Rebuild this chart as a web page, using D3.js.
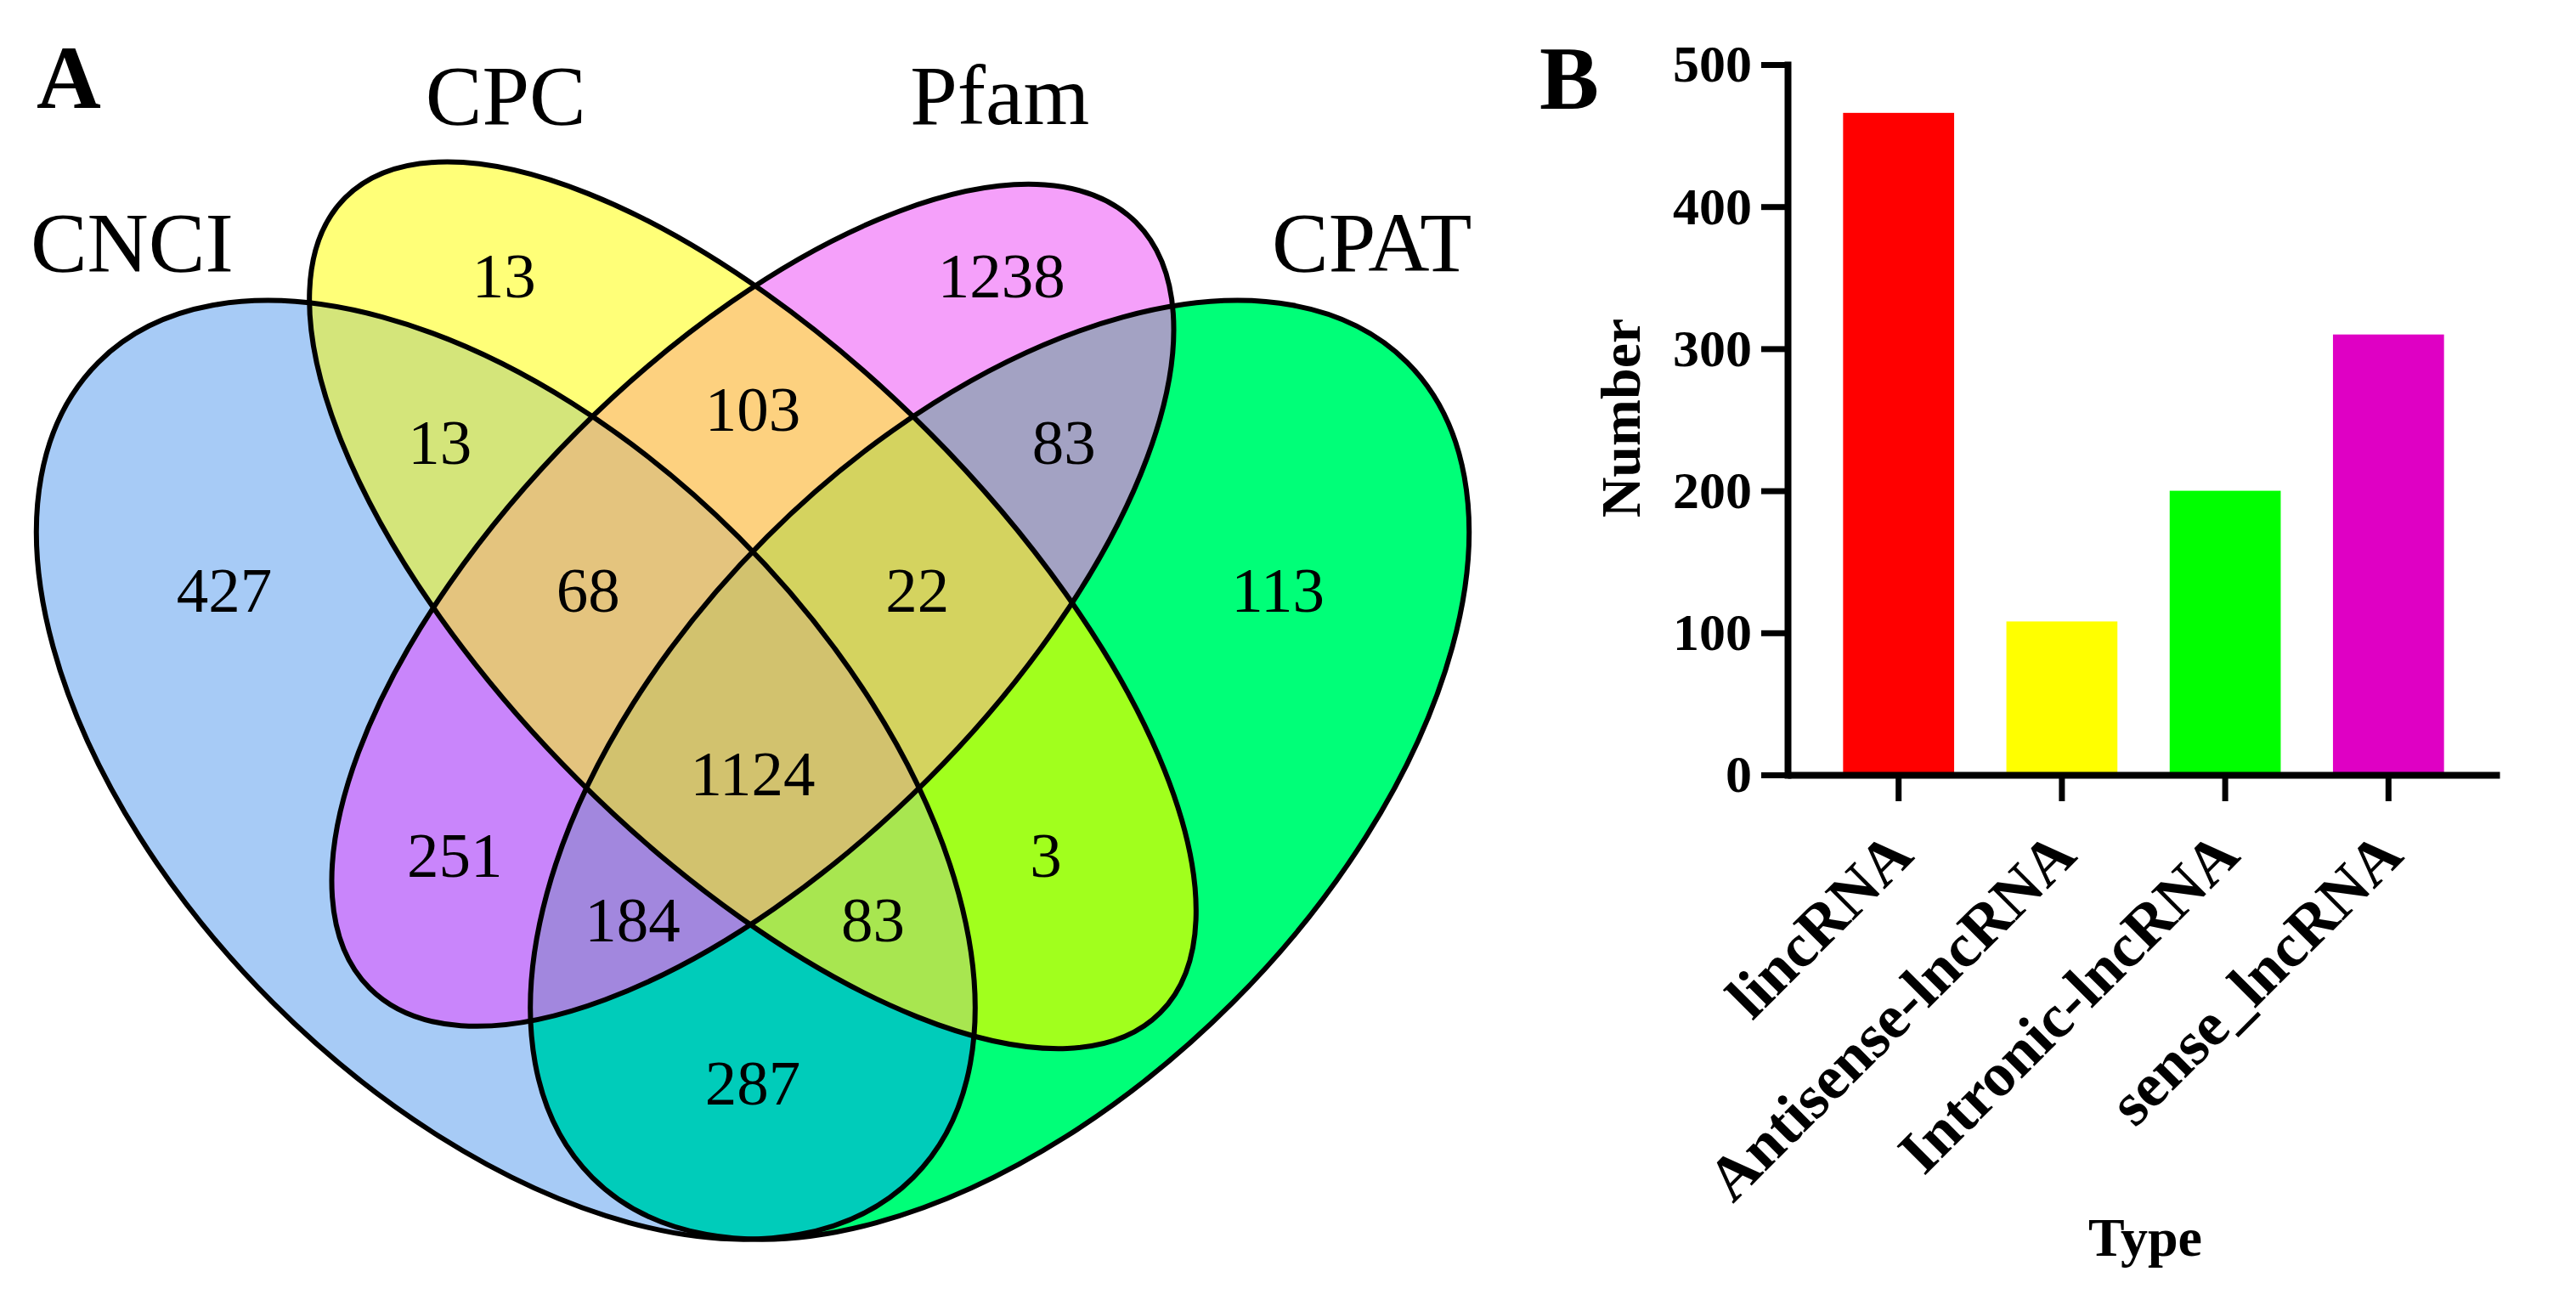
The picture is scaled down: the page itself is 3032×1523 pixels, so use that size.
<!DOCTYPE html>
<html>
<head>
<meta charset="utf-8">
<script src="https://cdn.jsdelivr.net/npm/d3@7"></script>
<style>
  body { margin: 0; background: #fff; }
  text { font-family: "Liberation Serif", "Times New Roman", serif; fill: #000; }
</style>
</head>
<body>
<div id="chart"></div>
<script>
var svgWidth = 3032;
var svgHeight = 1523;

// ---- panel A data: 4-set venn ----
var setNames = ["CNCI", "CPC", "Pfam", "CPAT"];
// membership key = CNCI CPC Pfam CPAT
var regionKeys = ["1000", "0100", "0010", "0001", "1100", "0110", "0011", "1010",
                  "0101", "1001", "1110", "0111", "1011", "1101", "1111"];
var regionCounts = [427, 13, 1238, 113, 13, 103, 83, 251, 3, 287, 68, 22, 184, 83, 1124];
var regionColors = ["#a7cbf6", "#ffff78", "#f5a0fa", "#00ff78", "#d4e57a", "#fdd17f", "#a3a2c3",
                    "#c985fb", "#a1ff1d", "#00ccba", "#e4c47e", "#d4d35f", "#a287de", "#a8e650", "#d2c26e"];

// ---- panel B data ----
var types = ["lincRNA", "Antisense-lncRNA", "Intronic-lncRNA", "sense_lncRNA"];
var typeCounts = [466, 108, 200, 310];
var typeColors = ["#ff0000", "#ffff00", "#00ff00", "#df00c4"];
var yTicks = [0, 100, 200, 300, 400, 500];

// venn layout in unit square (like VennDiagram's quad layout)
var ellipses = [
  { cx: 0.35, cy: 0.47, a: 0.35, b: 0.20, rot: 45 },
  { cx: 0.50, cy: 0.57, a: 0.35, b: 0.15, rot: 45 },
  { cx: 0.50, cy: 0.57, a: 0.329, b: 0.15, rot: -45 },
  { cx: 0.65, cy: 0.47, a: 0.35, b: 0.20, rot: -45 }
];
var regionPos = [[0.179, 0.579], [0.349, 0.770], [0.651, 0.770], [0.819, 0.579], [0.310, 0.669],
                 [0.500, 0.689], [0.689, 0.669], [0.319, 0.418], [0.678, 0.418], [0.500, 0.280],
                 [0.400, 0.579], [0.600, 0.579], [0.427, 0.379], [0.573, 0.379], [0.500, 0.468]];
var setLabelPos = [[0.123, 0.773], [0.350, 0.862], [0.650, 0.862], [0.876, 0.773]];

var svg = d3.select("#chart")
  .append("svg")
  .attr("width", svgWidth)
  .attr("height", svgHeight);

var defs = svg.append("defs");

var unit = 1938;
var xV = d3.scaleLinear().domain([0, 1]).range([-83, -83 + unit]);
var yV = d3.scaleLinear().domain([0, 1]).range([1817, 1817 - unit]);

function ellipseAttrs(sel) {
  sel.attr("cx", d => xV(d.cx))
    .attr("cy", d => yV(d.cy))
    .attr("rx", d => d.a * unit)
    .attr("ry", d => d.b * unit)
    .attr("transform", d => `rotate(${d.rot} ${xV(d.cx)} ${yV(d.cy)})`);
}

ellipses.forEach(function (e, i) {
  defs.append("clipPath").attr("id", "clip" + i)
    .append("ellipse").datum(e).call(ellipseAttrs);
});

var venn = svg.append("g");

// each region = inside its sets (nested clips) and outside the rest (mask)
regionKeys.forEach(function (key, r) {
  var mask = defs.append("mask").attr("id", "mask" + key)
    .attr("maskUnits", "userSpaceOnUse")
    .attr("x", 0).attr("y", 0).attr("width", svgWidth).attr("height", svgHeight);
  mask.append("rect").attr("width", svgWidth).attr("height", svgHeight).attr("fill", "#fff");
  var g = venn;
  key.split("").forEach(function (bit, i) {
    if (bit === "1") {
      g = g.append("g").attr("clip-path", "url(#clip" + i + ")");
    } else {
      mask.append("ellipse").datum(ellipses[i]).call(ellipseAttrs).attr("fill", "#000");
    }
  });
  g.append("rect")
    .attr("width", svgWidth).attr("height", svgHeight)
    .attr("fill", regionColors[r])
    .attr("mask", "url(#mask" + key + ")");
});

venn.selectAll("ellipse.outline")
  .data(ellipses)
  .enter()
  .append("ellipse")
  .attr("class", "outline")
  .call(ellipseAttrs)
  .attr("fill", "none")
  .attr("stroke", "#000")
  .attr("stroke-width", 6);

venn.selectAll("text.count")
  .data(regionCounts)
  .enter()
  .append("text")
  .attr("class", "count")
  .attr("x", (d, i) => xV(regionPos[i][0]))
  .attr("y", (d, i) => yV(regionPos[i][1]))
  .attr("dy", "0.34em")
  .attr("text-anchor", "middle")
  .attr("font-size", 75)
  .text(d => d);

venn.selectAll("text.setname")
  .data(setNames)
  .enter()
  .append("text")
  .attr("class", "setname")
  .attr("x", (d, i) => xV(setLabelPos[i][0]))
  .attr("y", (d, i) => yV(setLabelPos[i][1]))
  .attr("text-anchor", "middle")
  .attr("font-size", 100)
  .text(d => d);

svg.append("text")
  .attr("x", 43).attr("y", 127)
  .attr("font-size", 105).attr("font-weight", "bold")
  .text("A");

// ---- panel B: bar chart ----
var x = d3.scaleBand()
  .domain(types)
  .range([2104, 2942])
  .paddingInner(0.32)
  .paddingOuter(0.34);

var y = d3.scaleLinear()
  .domain([0, 500])
  .range([912, 76]);

var bars = svg.append("g");

bars.selectAll("rect")
  .data(typeCounts)
  .enter()
  .append("rect")
  .attr("x", (d, i) => x(types[i]))
  .attr("y", d => y(d))
  .attr("width", x.bandwidth())
  .attr("height", d => y(0) - y(d))
  .attr("fill", (d, i) => typeColors[i]);

var yAxis = svg.append("g")
  .attr("transform", `translate(${x.range()[0]},0)`)
  .call(d3.axisLeft(y).tickValues(yTicks).tickSize(31).tickSizeOuter(0).tickPadding(11));

yAxis.select(".domain").attr("stroke-width", 8).attr("stroke-linecap", "square");
yAxis.selectAll(".tick line").attr("stroke-width", 7);
yAxis.selectAll(".tick text")
  .attr("font-family", "Liberation Serif, Times New Roman, serif")
  .attr("font-size", 62)
  .attr("font-weight", "bold");

var xAxis = svg.append("g")
  .attr("transform", `translate(0,${y(0)})`)
  .call(d3.axisBottom(x).tickSize(31).tickSizeOuter(0).tickFormat(""));

xAxis.select(".domain").attr("stroke-width", 8);
xAxis.selectAll(".tick line").attr("stroke-width", 7);

svg.append("g")
  .selectAll("text")
  .data(types)
  .enter()
  .append("text")
  .attr("transform", d => `translate(${x(d) + x.bandwidth() / 2 + 20}, 1010) rotate(-45)`)
  .attr("text-anchor", "end")
  .attr("font-size", 73)
  .attr("font-weight", "bold")
  .text(d => d);

svg.append("text")
  .attr("transform", "translate(1930, 492) rotate(-90)")
  .attr("text-anchor", "middle")
  .attr("font-size", 66)
  .attr("font-weight", "bold")
  .text("Number");

svg.append("text")
  .attr("x", 2525).attr("y", 1478)
  .attr("text-anchor", "middle")
  .attr("font-size", 64)
  .attr("font-weight", "bold")
  .text("Type");

svg.append("text")
  .attr("x", 1812).attr("y", 128)
  .attr("font-size", 105).attr("font-weight", "bold")
  .text("B");
</script>
</body>
</html>
